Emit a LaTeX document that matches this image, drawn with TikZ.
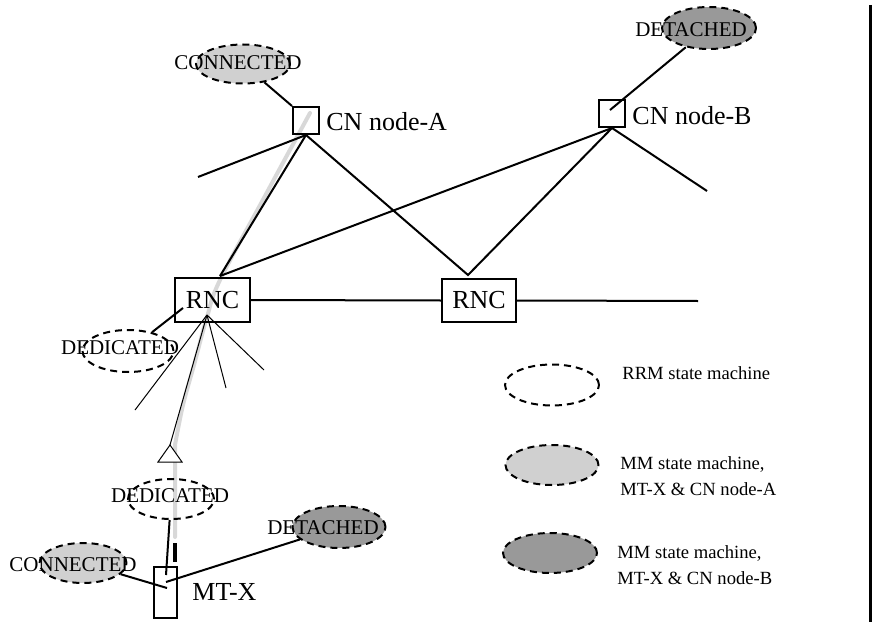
\documentclass[tikz,border=0pt]{standalone}
\usepackage{fontspec}
\setmainfont{Liberation Serif}
\usetikzlibrary{shapes.geometric}
\definecolor{lightmm}{HTML}{D0D0D0}
\definecolor{darkmm}{HTML}{999999}
\definecolor{grayline}{HTML}{D8D8D8}
\begin{document}
\begin{tikzpicture}[x=0.5pt,y=-0.5pt,
  box/.style={draw, line width=1pt, inner sep=0pt},
  wire/.style={line width=1pt},
  thinwire/.style={line width=0.5pt},
  sm/.style={ellipse, draw, dash pattern=on 3.5pt off 2.5pt, line width=1pt, inner sep=0pt},
  lbl/.style={font=\fontsize{10.5}{12}\selectfont, inner sep=0pt},
  big/.style={font=\fontsize{13}{15}\selectfont, inner sep=0pt},
  leg/.style={font=\fontsize{9.3}{13}\selectfont, inner sep=0pt, anchor=west, align=left},
]
\useasboundingbox (0,0) rectangle (872,626);

% junction coordinates
\coordinate (rnc1top) at (220,276);
\coordinate (rnc2top) at (468,275);
\coordinate (aleft) at (198,177);
\coordinate (bright) at (707,191);
\coordinate (binner) at (610,110);
\coordinate (rncright) at (698,301);
\coordinate (fan) at (207,315);
\coordinate (rnc1in) at (183,308);
\coordinate (f1) at (135,410);
\coordinate (f3) at (226,388);
\coordinate (f4) at (264,370);
\coordinate (tri) at (170,445);
\coordinate (mtin1) at (166,575);
\coordinate (mtin2) at (167,588);
\coordinate (mtin3) at (166,582);
\coordinate (dashtop) at (175,543);
\coordinate (dashbot) at (175,562);
\coordinate (vtop) at (870.5,5);
\coordinate (vbot) at (870.5,622);

% grey path
\draw[grayline, line width=2pt, line cap=round]
  plot[smooth, tension=0.6] coordinates {(310,113) (265,196) (220,280) (207,317) (194,365) (183,405) (175,445)} -- (175,537);

% ellipses (state machines)
\node[sm, fill=lightmm, minimum width=47pt, minimum height=19.5pt] (conA) at (243,64) {};
\node[lbl] (conAl) at (238,63) {CONNECTED};
\node[sm, fill=darkmm, minimum width=47pt, minimum height=21pt] (detB) at (709,28) {};
\node[lbl] (detBl) at (691,30) {DETACHED};
\node[sm, minimum width=45.5pt, minimum height=21pt] (ded1) at (128,351) {};
\node[lbl] (ded1l) at (120,348) {DEDICATED};
\node[sm, minimum width=43pt, minimum height=20pt] (ded2) at (171,499) {};
\node[lbl] (ded2l) at (170,496) {DEDICATED};
\node[sm, fill=lightmm, minimum width=43.5pt, minimum height=20pt] (con2) at (83,563) {};
\node[lbl] (con2l) at (73,565) {CONNECTED};
\node[sm, fill=darkmm, minimum width=46.5pt, minimum height=21pt] (det2) at (339,527) {};
\node[lbl] (det2l) at (323,528) {DETACHED};

% boxes
\node[box, minimum width=13pt, minimum height=13.5pt] (cnA) at (306,120.5) {};
\node[big, anchor=west] (cnAl) at (326,122) {CN node-A};
\node[box, minimum width=13pt, minimum height=13.5pt] (cnB) at (612,113.5) {};
\node[big, anchor=west] (cnBl) at (632,116) {CN node-B};
\node[box, big, minimum width=37.5pt, minimum height=22pt] (rnc1) at (212.5,300) {RNC};
\node[box, big, minimum width=37pt, minimum height=21.5pt] (rnc2) at (479,300.5) {RNC};
\node[box, minimum width=11.5pt, minimum height=25.5pt] (mtx) at (165.5,592.5) {};
\node[big, anchor=west] (mtxl) at (192,592) {MT-X};

% core network wires
\draw[wire] (conA) -- (cnA.north west);
\draw[wire] (cnA.south) -- (aleft);
\draw[wire] (cnA.south) -- (rnc1top);
\draw[wire] (cnA.south) -- (rnc2top) -- (cnB.south);
\draw[wire] (rnc1top) -- (cnB.south);
\draw[wire] (cnB.south) -- (bright);
\draw[wire] (binner) -- (detB);
\draw[wire] (rnc1.east) -- (rnc2.west);
\draw[wire] (rnc2.east) -- (rncright);
\draw[wire] (rnc1in) -- (ded1);

% radio fan
\draw[thinwire] (fan) -- (f1);
\draw[thinwire] (fan) -- (tri);
\draw[thinwire] (fan) -- (f3);
\draw[thinwire] (fan) -- (f4);
\draw[thinwire, fill=white] (tri) -- (158,462) -- (182,462) -- cycle;

% mobile terminal
\draw[line width=1.6pt] (dashtop) -- (dashbot);
\draw[wire] (ded2) -- (mtin1);
\draw[wire] (con2) -- (mtin2);
\draw[wire] (mtin3) -- (det2);

% legend
\node[sm, minimum width=47pt, minimum height=20.5pt] (leg1) at (552,385) {};
\node[leg] (leg1l) at (622,373) {RRM state machine};
\node[sm, fill=lightmm, minimum width=46.5pt, minimum height=20pt] (leg2) at (552,465) {};
\node[leg] (leg2l) at (620,476) {MM state machine,\\MT-X \& CN node-A};
\node[sm, fill=darkmm, minimum width=47pt, minimum height=20pt] (leg3) at (550,553) {};
\node[leg] (leg3l) at (617,565) {MM state machine,\\MT-X \& CN node-B};

% right rule
\draw[line width=1.2pt] (vtop) -- (vbot);
\end{tikzpicture}
\end{document}
